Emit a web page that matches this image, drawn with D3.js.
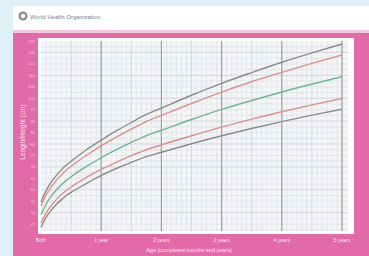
<!DOCTYPE html>
<html>
<head>
<meta charset="utf-8">
<script src="https://cdn.jsdelivr.net/npm/d3@7"></script>
<style>
  body { margin: 0; background: #dff0f8; }
  svg { display: block; font-family: "Liberation Sans", Arial, sans-serif; }
</style>
</head>
<body>
<svg id="chart"></svg>
<script>
// length/height-for-age, girls, birth to 5 years (z-score lines)
const months = [0, 1, 2, 3, 4, 5, 6, 9, 12, 15, 18, 21, 24, 30, 36, 42, 48, 54, 60];
const sdNeg3 = [43.6, 47.8, 51.0, 53.5, 55.6, 57.4, 58.9, 62.7, 66.3, 69.3, 72.0, 74.5, 76.4, 80.1, 83.6, 86.8, 89.8, 92.6, 95.2];
const sdNeg2 = [45.4, 49.8, 53.0, 55.6, 57.8, 59.6, 61.2, 65.3, 68.9, 72.0, 74.9, 77.5, 79.6, 83.6, 87.4, 90.9, 94.1, 97.1, 99.9];
const sd0    = [49.1, 53.7, 57.1, 59.8, 62.1, 64.0, 65.7, 70.1, 74.0, 77.5, 80.7, 83.7, 86.0, 90.7, 95.1, 99.0, 102.7, 106.2, 109.4];
const sd2    = [52.9, 57.6, 61.1, 64.0, 66.4, 68.5, 70.3, 75.0, 79.2, 83.0, 86.5, 89.8, 92.5, 97.7, 102.7, 107.2, 111.3, 115.2, 118.9];
const sd3    = [54.7, 59.5, 63.2, 66.1, 68.6, 70.7, 72.5, 77.4, 81.7, 85.7, 89.4, 92.9, 95.7, 101.3, 106.5, 111.2, 115.7, 119.8, 123.7];
const yearTicks = [0, 12, 24, 36, 48, 60];
const yearLabels = ["Birth", "1 year", "2 years", "3 years", "4 years", "5 years"];

const svg = d3.select('#chart').attr('width', 369).attr('height', 256);

// card + pink frame
svg.append('rect').attr('x', 13).attr('y', 6).attr('width', 356).attr('height', 250).attr('fill', '#ffffff');
svg.append('rect').attr('x', 13).attr('y', 30).attr('width', 356).attr('height', 3).attr('fill', '#f2c6dc');
svg.append('rect').attr('x', 13).attr('y', 33).attr('width', 356).attr('height', 223).attr('fill', '#e26aa9');

// WHO logo
const logo = svg.append('g').attr('transform', 'translate(18,11)');
logo.append('circle').attr('cx', 5).attr('cy', 5).attr('r', 4.5).attr('fill', '#8a8f96');
logo.append('circle').attr('cx', 5).attr('cy', 5).attr('r', 2.2).attr('fill', '#ffffff');
logo.append('text').attr('x', 12).attr('y', 7.5).attr('font-size', 6).attr('fill', '#7d828a')
  .text('World Health Organization');

const x = d3.scaleLinear().domain([0, 60]).range([41, 342]);
const y = d3.scaleLinear().domain([42, 125]).range([231, 41]);

// plot frame
svg.append('rect').attr('x', 38).attr('y', 38).attr('width', 316).attr('height', 196).attr('fill', '#ffffff');
svg.append('rect').attr('x', 41).attr('y', 41).attr('width', 307).attr('height', 190).attr('fill', '#f3f5f7');

const grid = svg.append('g');
grid.selectAll('.hg').data(d3.range(42.5, 125, 2.5)).enter().append('line')
  .attr('x1', 41).attr('x2', 348)
  .attr('y1', d => y(d)).attr('y2', d => y(d))
  .attr('stroke', d => d % 10 === 0 ? '#c4c9ce' : '#dde1e5').attr('stroke-width', 0.7);
grid.selectAll('.vg').data(d3.range(1, 61)).enter().append('line')
  .attr('x1', d => x(d)).attr('x2', d => x(d))
  .attr('y1', 41).attr('y2', 231)
  .attr('stroke', d => d % 6 === 0 ? '#c8cdd2' : '#dfe3e6').attr('stroke-width', 0.7);
grid.selectAll('.yg').data(yearTicks.slice(1)).enter().append('line')
  .attr('x1', d => x(d)).attr('x2', d => x(d))
  .attr('y1', 41).attr('y2', 231)
  .attr('stroke', '#9ea2a6').attr('stroke-width', 1.2);

// z-score curves
const line = d3.line().x((d, i) => x(months[i])).y(d => y(d)).curve(d3.curveMonotoneX);
const series = [
  { v: sd3, c: '#8b8b8b' },
  { v: sd2, c: '#e08f8a' },
  { v: sd0, c: '#6fb596' },
  { v: sdNeg2, c: '#e08f8a' },
  { v: sdNeg3, c: '#8b8b8b' }
];
svg.selectAll('.curve').data(series).enter().append('path')
  .attr('d', d => line(d.v))
  .attr('fill', 'none').attr('stroke', d => d.c).attr('stroke-width', 1.4);

// x labels
svg.append('g').selectAll('text').data(yearTicks).enter().append('text')
  .attr('x', d => x(d)).attr('y', 242).attr('text-anchor', 'middle')
  .attr('font-size', 5).attr('fill', '#fbe3ef')
  .text((d, i) => yearLabels[i]);

// y labels
svg.append('g').selectAll('text').data(d3.range(45, 126, 5)).enter().append('text')
  .attr('x', 35).attr('y', d => y(d) + 1.5).attr('text-anchor', 'end')
  .attr('font-size', 4).attr('fill', '#f5c9df')
  .text(d => d);

svg.append('text').attr('x', 189).attr('y', 252).attr('text-anchor', 'middle')
  .attr('font-size', 5.5).attr('fill', '#fbe3ef')
  .text('Age (completed months and years)');

svg.append('text').attr('transform', 'translate(25,132) rotate(-90)').attr('text-anchor', 'middle')
  .attr('font-size', 6.5).attr('fill', '#fbe3ef')
  .text('Length/Height (cm)');
</script>
</body>
</html>
